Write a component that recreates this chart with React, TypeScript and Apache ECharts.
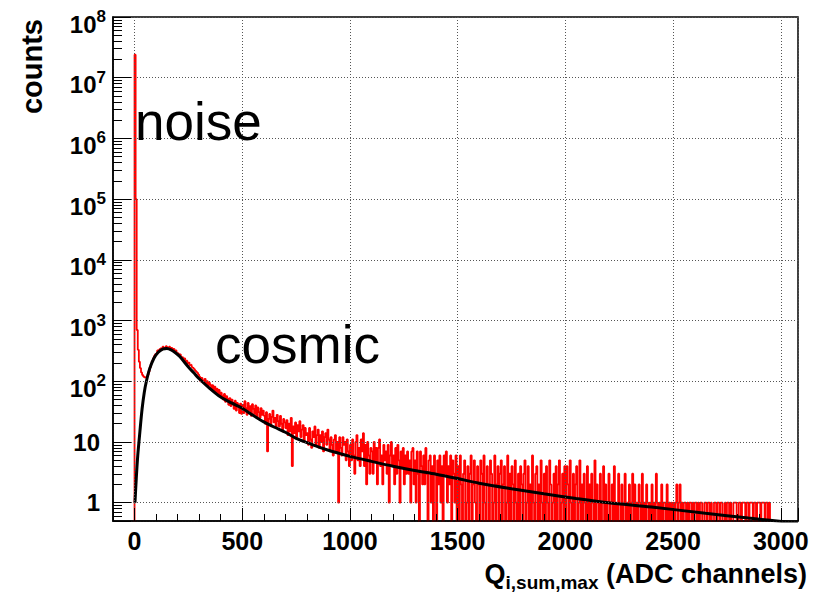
import React, { useEffect, useRef } from 'react';
import * as echarts from 'echarts';

// Histogram binning of the charge sum (ADC channels)
const BIN_WIDTH = 5;

// Noise spike and the valley before the cosmic peak, x = 0 .. 95
const noiseCounts = [24000000, 100000, 700, 330, 210, 165, 140, 127, 120, 116, 115, 119, 128, 145, 168, 192, 215, 238, 262, 280];

// Cosmic peak, x = 100 .. 295
const peakCounts = [285, 322, 305, 338, 349, 331, 372, 356, 341, 379, 362, 350, 371, 338, 356, 327, 342, 309, 322, 288,
  291, 262, 276, 244, 251, 230, 239, 212, 218, 197, 203, 184, 188, 171, 166, 159, 150, 144, 138, 129];

// Falling shoulder, x = 300 .. 495
const shoulderCounts = [119, 100, 114, 103, 94, 110, 91, 101, 83, 95, 88, 74, 86, 70, 82, 66, 76, 62, 72, 56,
  65, 57, 50, 62, 46, 57, 52, 41, 53, 39, 50, 44, 35, 48, 33, 44, 40, 30, 43, 29];

// Tail, x = 500 .. 995
const tailCounts1 = [41, 30, 47, 36, 28, 44, 33, 39, 27, 42, 35, 29, 40, 26, 37, 31, 25, 36, 28, 33,
  27, 20, 31, 7, 24, 29, 19, 26, 33, 21, 25, 17, 28, 22, 18, 27, 20, 15, 24, 21,
  17, 23, 13, 20, 15, 25, 4, 18, 14, 21, 12, 19, 15, 22, 12, 16, 19, 10, 17, 13,
  14, 9, 17, 11, 8, 15, 12, 18, 9, 13, 16, 8, 13, 10, 15, 7, 12, 14, 9, 16,
  11, 7, 12, 9, 6, 11, 13, 7, 10, 1, 12, 8, 6, 12, 9, 10, 5, 11, 7, 4];

// Tail, x = 1000 .. 1495
const tailCounts2 = [9, 5, 11, 6, 3, 10, 13, 5, 8, 4, 11, 7, 14, 4, 9, 2, 10, 6, 3, 8,
  7, 3, 10, 5, 8, 2, 8, 11, 4, 6, 2, 9, 5, 7, 3, 9, 1, 6, 10, 4,
  6, 2, 8, 3, 9, 5, 1, 7, 4, 8, 2, 6, 3, 7, 3, 5, 1, 7, 8, 2,
  5, 1, 7, 3, 0, 7, 4, 2, 6, 2, 8, 3, 0, 5, 6, 1, 4, 0, 6, 3,
  0, 5, 2, 6, 1, 4, 0, 6, 3, 7, 1, 4, 2, 6, 0, 5, 3, 1, 6, 0];

// Tail, x = 1500 .. 1995
const tailCounts3 = [4, 0, 6, 2, 0, 3, 5, 0, 1, 4, 0, 3, 6, 0, 2, 5, 1, 0, 4, 2,
  0, 5, 3, 0, 6, 1, 0, 4, 2, 0, 5, 3, 0, 1, 6, 0, 2, 4, 0, 3,
  5, 0, 2, 4, 0, 1, 6, 0, 3, 0, 4, 2, 0, 5, 1, 0, 3, 0, 4, 2,
  0, 3, 5, 0, 1, 4, 0, 2, 0, 6, 1, 0, 3, 4, 0, 2, 0, 5, 1, 0,
  3, 0, 4, 1, 0, 5, 2, 0, 1, 3, 0, 4, 0, 2, 5, 0, 1, 3, 0, 4];

// Tail, x = 2000 .. 2495
const tailCounts4 = [0, 4, 2, 0, 5, 1, 0, 3, 0, 2, 4, 0, 1, 5, 0, 2, 0, 3, 1, 0,
  4, 0, 2, 0, 3, 1, 0, 5, 0, 2, 1, 0, 3, 0, 1, 4, 0, 2, 0, 1,
  3, 0, 1, 2, 0, 4, 0, 1, 0, 3, 1, 0, 2, 0, 1, 3, 0, 1, 0, 2,
  0, 1, 3, 0, 2, 0, 1, 0, 2, 1, 0, 3, 0, 1, 0, 2, 1, 0, 1, 0,
  2, 0, 1, 0, 3, 1, 0, 1, 0, 2, 0, 1, 1, 0, 2, 0, 1, 0, 1, 0];

// Tail, x = 2500 .. 2945
const tailCounts5 = [1, 0, 1, 2, 0, 1, 2, 0, 1, 0, 1, 1, 0, 1, 0, 1, 1, 0, 1, 0,
  1, 1, 0, 1, 0, 1, 1, 0, 0, 1, 1, 0, 1, 1, 0, 1, 0, 0, 1, 1,
  0, 1, 1, 0, 1, 1, 0, 0, 1, 0, 1, 1, 0, 1, 0, 0, 1, 1, 1, 0,
  0, 1, 1, 0, 1, 1, 1, 0, 1, 1, 0, 1, 1, 1, 0, 1, 1, 0, 1, 1,
  1, 0, 1, 1, 1, 0, 1, 1, 0, 1];

// Fitted cosmic spectrum
const fitX = [2, 8, 15, 25, 35, 45, 55, 70, 90, 110, 130, 150, 170, 190, 210, 250, 275, 300, 350, 400, 450, 500,
  550, 600, 650, 700, 750, 800, 850, 900, 950, 1000, 1100, 1200, 1300, 1400, 1500, 1600, 1750, 1900, 2050,
  2200, 2400, 2650, 2850, 3080];
const fitY = [1.0, 2.5, 6, 15, 35, 65, 100, 160, 240, 300, 340, 348, 330, 295, 255, 172, 138, 110, 76, 55, 44, 36,
  27.5, 21.5, 17.5, 14.5, 11.5, 9.8, 8.4, 7.3, 6.5, 5.8, 4.8, 4.0, 3.4, 2.95, 2.5, 2.1, 1.7, 1.4, 1.17,
  1.0, 0.85, 0.67, 0.56, 0.46];

// Axis ranges and tick positions
const X_MIN = -100;
const X_MAX = 3080;
const Y_MIN = 0.5;
const Y_MAX = 1e8;
const logMantissas = [2, 3, 4, 5, 6, 7, 8, 9];
const logDecades = [-1, 0, 1, 2, 3, 4, 5, 6, 7];

// empty bins sit below the log axis floor and get clipped at the frame
const EMPTY_BIN_LEVEL = 0.1;

const FONT = '"Liberation Sans", Arial, Helvetica, sans-serif';

export default function App() {
  const ref = useRef<HTMLDivElement>(null);

  useEffect(() => {
    if (!ref.current) return;
    const chart = echarts.init(ref.current, undefined, { renderer: 'svg' });

    const counts = [...noiseCounts, ...peakCounts, ...shoulderCounts, ...tailCounts1, ...tailCounts2,
      ...tailCounts3, ...tailCounts4, ...tailCounts5];
    const histData: number[][] = [[0, EMPTY_BIN_LEVEL]];
    counts.forEach((c, i) => histData.push([i * BIN_WIDTH, c > 0 ? c : EMPTY_BIN_LEVEL]));
    histData.push([counts.length * BIN_WIDTH, EMPTY_BIN_LEVEL]);
    histData.push([X_MAX + 100, EMPTY_BIN_LEVEL]);

    const fitData = fitX.map((x, i) => [x, fitY[i]]);

    const yLo = Math.log10(Y_MIN);
    const yHi = Math.log10(Y_MAX);
    const minorY: number[] = [];
    logDecades.forEach((d) => logMantissas.forEach((m) => {
      const v = Math.log10(m) + d;
      if (v > yLo && v < yHi) minorY.push(v);
    }));

    const grid = { left: 113, top: 17, width: 685, height: 504 };
    const gridLine = { color: '#555', width: 1, type: [1, 2] as number[] };

    chart.setOption({
      animation: false,
      backgroundColor: '#fff',
      textStyle: { fontFamily: FONT },
      grid: { ...grid, show: true, borderColor: '#000', borderWidth: 1.5, backgroundColor: 'transparent' },
      xAxis: [
        {
          type: 'value', min: X_MIN, max: X_MAX, splitNumber: 6, z: 3, position: 'bottom',
          axisLine: { show: true, onZero: false, lineStyle: { color: '#000', width: 1.5 } },
          axisTick: { show: true, inside: true, length: 13, lineStyle: { color: '#000', width: 1 } },
          axisLabel: {
            show: true, margin: 7, color: '#000', fontSize: 25, fontWeight: 'bold', fontFamily: FONT,
            formatter: (v: number) => (Math.abs(v % 500) < 1e-6 ? String(Math.round(v)) : ''),
          },
          splitLine: { show: true, lineStyle: gridLine },
        },
        {
          type: 'value', min: X_MIN, max: X_MAX, interval: 100, position: 'bottom', z: 3,
          axisLine: { show: false, onZero: false },
          axisTick: { show: true, inside: true, length: 7, lineStyle: { color: '#000', width: 1 } },
          axisLabel: { show: false },
          splitLine: { show: false },
        },
      ],
      yAxis: [
        {
          type: 'log', logBase: 10, min: Y_MIN, max: Y_MAX, position: 'left', z: 3,
          axisLine: { show: true, onZero: false, lineStyle: { color: '#000', width: 1.5 } },
          axisTick: { show: true, inside: true, length: 18, lineStyle: { color: '#000', width: 1 } },
          axisLabel: {
            show: true, margin: 7, color: '#000', fontFamily: FONT, fontWeight: 'bold',
            formatter: (v: number) => {
              const e = Math.log10(v);
              const n = Math.round(e);
              if (Math.abs(e - n) > 1e-6) return '';
              if (n === 0) return '{p|1}';
              if (n === 1) return '{p|10}';
              return '{b|10}{s|' + n + '}';
            },
            rich: {
              p: { fontSize: 24, fontWeight: 'bold', fontFamily: FONT, color: '#000', lineHeight: 24, padding: [0, 6, 0, 0] },
              b: { fontSize: 24, fontWeight: 'bold', fontFamily: FONT, color: '#000', lineHeight: 24, padding: [7, 0, 0, 0], verticalAlign: 'top' },
              s: { fontSize: 17, fontWeight: 'bold', fontFamily: FONT, color: '#000', lineHeight: 17, padding: [3, 0, 0, 0], verticalAlign: 'top' },
            },
          },
          splitLine: { show: true, lineStyle: gridLine },
        },
        {
          type: 'value', min: yLo, max: yHi, position: 'left', offset: 0, z: 3,
          axisLine: { show: false, onZero: false },
          axisTick: { show: true, inside: true, length: 9, customValues: minorY, lineStyle: { color: '#000', width: 1 } },
          axisLabel: { show: false },
          splitLine: { show: false },
        },
      ],
      series: [
        {
          name: 'data', type: 'line', xAxisIndex: 0, yAxisIndex: 0, data: histData, step: 'end',
          showSymbol: false, symbol: 'none', clip: true, silent: true, z: 2,
          lineStyle: { color: '#ff0000', width: 1.8 },
        },
        {
          name: 'fit', type: 'line', xAxisIndex: 0, yAxisIndex: 0, data: fitData, smooth: 0.3,
          showSymbol: false, symbol: 'none', clip: true, silent: true, z: 2,
          lineStyle: { color: '#000', width: 3 },
        },
      ],
      graphic: [
        {
          type: 'text', x: 32, y: 19, rotation: Math.PI / 2, z: 10,
          style: { text: 'counts', fontSize: 29, fontWeight: 'bold', fontFamily: FONT, fill: '#000', align: 'right', verticalAlign: 'middle' },
        },
        {
          type: 'text', x: 135, y: 121, z: 10,
          style: { text: 'noise', fontSize: 53, fontFamily: FONT, fill: '#000', align: 'left', verticalAlign: 'middle' },
        },
        {
          type: 'text', x: 215, y: 344, z: 10,
          style: { text: 'cosmic', fontSize: 53, fontFamily: FONT, fill: '#000', align: 'left', verticalAlign: 'middle' },
        },
        {
          type: 'text', x: 807, y: 560, z: 10,
          style: {
            text: '{q|Q}{i|i,sum,max}{t| (ADC channels)}',
            align: 'right', verticalAlign: 'top',
            rich: {
              q: { fontSize: 27, fontWeight: 'bold', fontFamily: FONT, fill: '#000', lineHeight: 28, verticalAlign: 'top' },
              i: { fontSize: 19, fontWeight: 'bold', fontFamily: FONT, fill: '#000', lineHeight: 19, padding: [13, 0, 0, 0], verticalAlign: 'top' },
              t: { fontSize: 27, fontWeight: 'bold', fontFamily: FONT, fill: '#000', lineHeight: 28, verticalAlign: 'top' },
            },
          },
        },
      ],
    });

    return () => chart.dispose();
  }, []);

  return <div ref={ref} style={{ position: 'absolute', left: 0, top: 0, width: 815, height: 595 }} />;
}
